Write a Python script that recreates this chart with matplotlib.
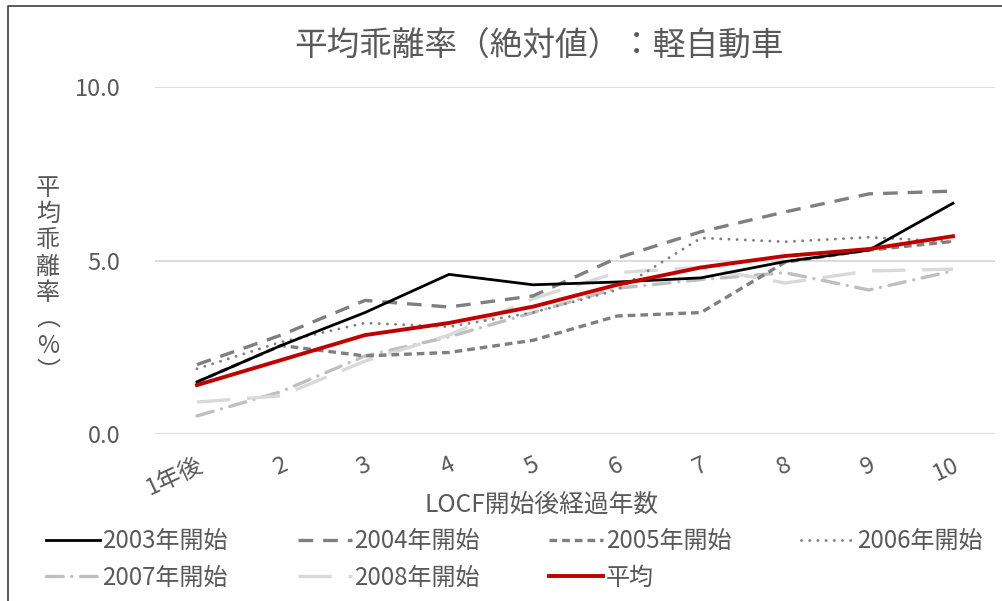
import numpy as np
import matplotlib
matplotlib.use('Agg')
import matplotlib.pyplot as plt
from matplotlib.lines import Line2D

plt.rcParams['font.family'] = ['Noto Sans CJK JP', 'DejaVu Sans']

### Data
categories = ['1年後', '2', '3', '4', '5', '6', '7', '8', '9', '10']
s2003 = [1.5, 2.55, 3.5, 4.6, 4.3, 4.38, 4.5, 4.97, 5.3, 6.65]
s2004 = [2.0, 2.85, 3.85, 3.66, 3.98, 5.07, 5.83, 6.4, 6.92, 7.0]
s2005 = [1.5, 2.55, 2.25, 2.35, 2.7, 3.4, 3.5, 4.95, 5.3, 5.55]
s2006 = [1.88, 2.65, 3.2, 3.09, 3.5, 4.15, 5.65, 5.54, 5.67, 5.54]
s2007 = [0.52, 1.22, 2.25, 2.8, 3.5, 4.2, 4.45, 4.65, 4.15, 4.7]
s2008 = [0.92, 1.1, 2.1, 2.85, 3.9, 4.65, 4.8, 4.35, 4.7, 4.75]
s_avg = [1.41, 2.13, 2.85, 3.2, 3.67, 4.3, 4.8, 5.13, 5.33, 5.7]

title = '平均乖離率（絶対値）：軽自動車'
xlabel = 'LOCF開始後経過年数'
ylabel = '平均乖離率︵%︶'

### Plot settings
txt = '#595959'
grid_c = '#d9d9d9'

fig = plt.figure(figsize=(10.03, 6.01), dpi=100)
ax = fig.add_axes([155/1003, 1-434/601, 840/1003, 347/601])
x = np.arange(len(categories))

ax.plot(x, s2003, color='black', lw=2.0, label='2003年開始', zorder=5)
ax.plot(x, s2004, color='#7f7f7f', lw=2.4, ls=(0, (4.4, 3.0)), label='2004年開始', zorder=4)
ax.plot(x, s2005, color='#7f7f7f', lw=2.4, ls=(0, (2.3, 1.5)), label='2005年開始', zorder=4)
ax.plot(x, s2006, color='#7f7f7f', lw=2.1, ls=(0, (0.01, 2.8)), dash_capstyle='round',
        label='2006年開始', zorder=4)
ax.plot(x, s2007, color='#bfbfbf', lw=2.4, ls=(0, (5, 2.6, 0.01, 2.6)), dash_capstyle='round',
        label='2007年開始', zorder=3)
ax.plot(x, s2008, color='#d9d9d9', lw=2.4, ls=(0, (10, 5)), label='2008年開始', zorder=3)
ax.plot(x, s_avg, color='#c00000', lw=2.8, label='平均', zorder=6)

ax.set_xlim(-0.5, 9.5)
ax.set_ylim(0, 10)
ax.set_yticks([0, 5, 10])
ax.set_yticklabels(['0.0', '5.0', '10.0'])
ax.set_xticks(x)
ax.set_xticklabels(categories, rotation=25, ha='right', va='top', rotation_mode='anchor')
ax.tick_params(axis='both', length=0, labelsize=17, labelcolor=txt)
ax.tick_params(axis='y', pad=25)
ax.tick_params(axis='x', pad=14)
ax.grid(axis='y', color=grid_c, lw=1.3)
ax.set_axisbelow(True)
for sp in ax.spines.values():
    sp.set_visible(False)

fig.text(539/1003, 1-47/601, title, ha='center', va='center', fontsize=23.5, color=txt)
fig.text(542/1003, 1-505/601, xlabel, ha='center', va='center', fontsize=17.8, color=txt)
fig.text(48/1003, 1-280/601, '\n'.join(ylabel), ha='center', va='center', fontsize=17.3,
         color=txt, linespacing=1.02)

### Legend, reordered so the columns read row by row
h, l = ax.get_legend_handles_labels()
order = [0, 4, 1, 5, 2, 6, 3]
fig.legend([h[i] for i in order], [l[i] for i in order], ncol=4, frameon=False,
           loc='upper left', bbox_to_anchor=(46/1003, 1-528/601), fontsize=17.3,
           labelcolor=txt, handlelength=2.25, handletextpad=0.1, columnspacing=2.9,
           labelspacing=0.45, borderpad=0, borderaxespad=0)

### Chart area border (left and top visible)
fig.add_artist(Line2D([8/1003, 8/1003, 1], [0, 1-6/601, 1-6/601], color='#404040', lw=1.2))

plt.savefig('out.png', dpi=100)
